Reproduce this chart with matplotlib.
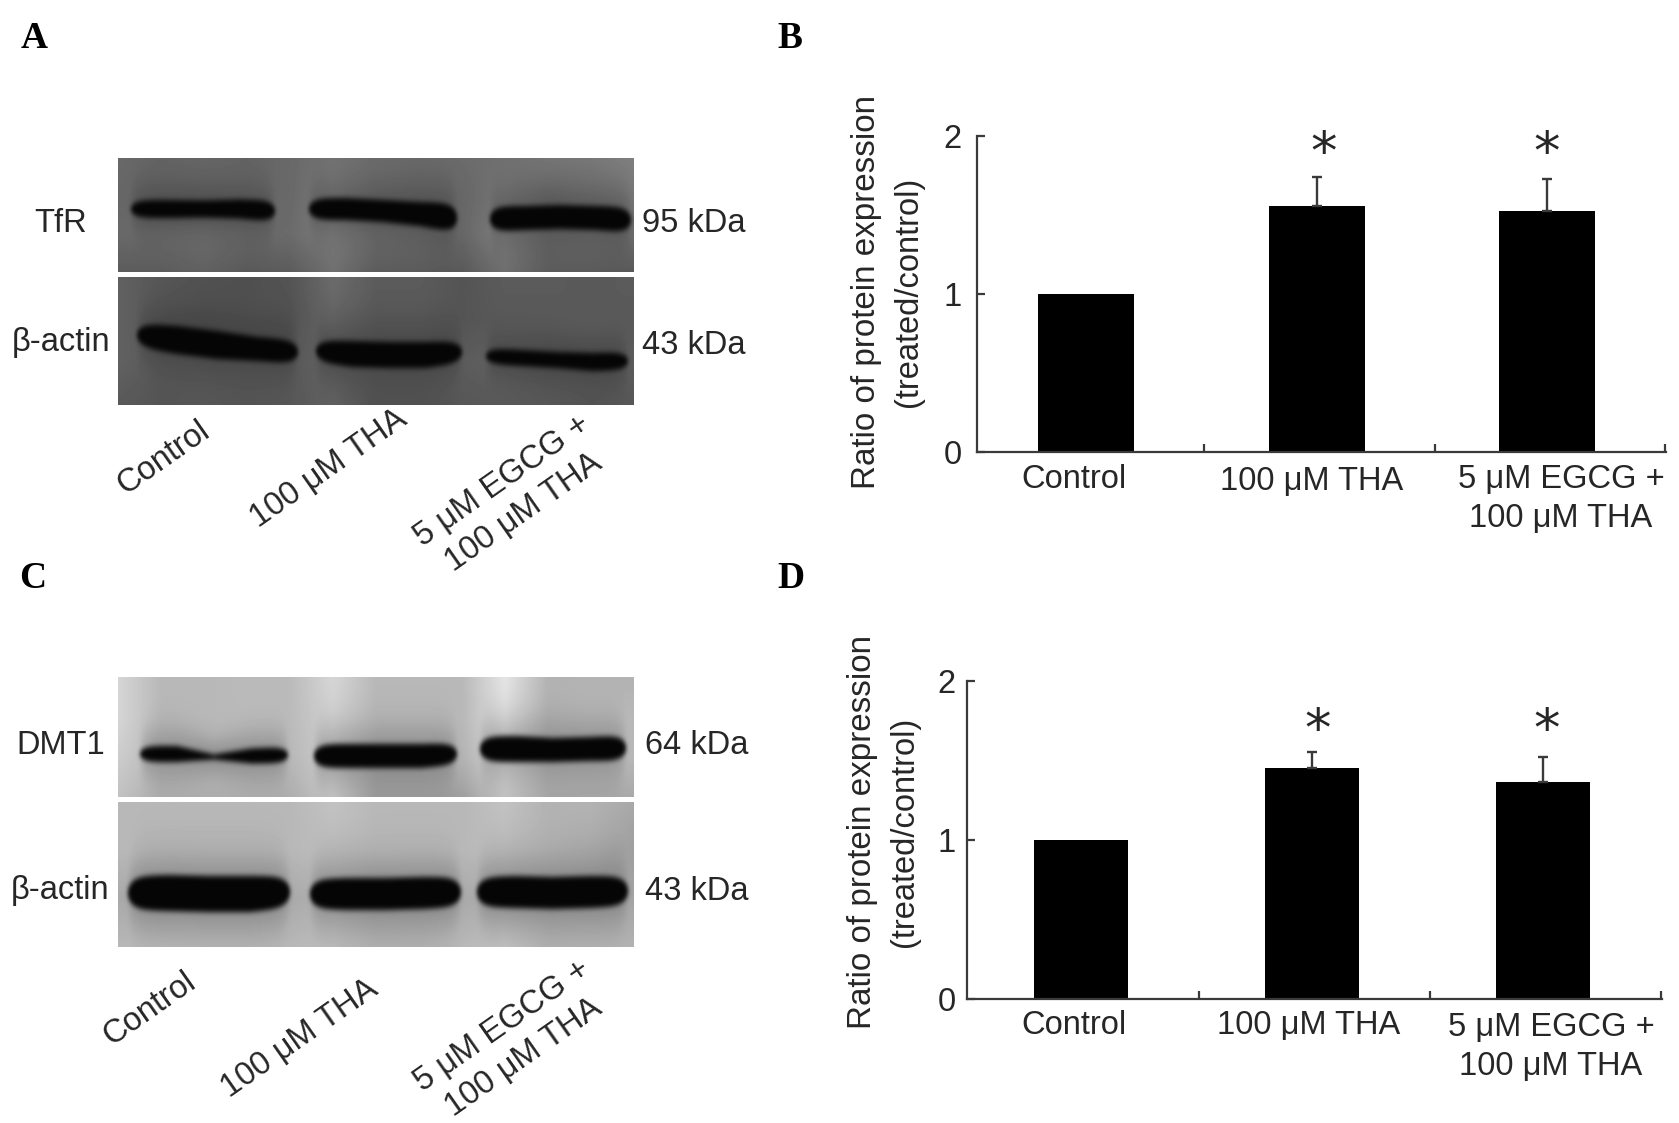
import numpy as np
import matplotlib
matplotlib.use("Agg")
import matplotlib.pyplot as plt

plt.rcParams['font.family'] = ['Liberation Sans', 'DejaVu Sans']

# ---------- data ----------
categories = ["Control", "100 μM THA", "5 μM EGCG +\n100 μM THA"]
y_ticks = [0, 1, 2]
ylabel_1 = "Ratio of protein expression"
ylabel_2 = "(treated/control)"

b_values = [1.0, 1.56, 1.525]
b_errors = [0.0, 0.18, 0.205]
d_values = [1.0, 1.45, 1.365]
d_errors = [0.0, 0.105, 0.155]

# blot bands: x-left, x-right, centre line, half thickness (5 control points)
tfr_bands = [
    (131, 275, [209, 209, 209, 209, 211], [9, 9, 8.5, 9.5, 11]),
    (309, 457, [209, 209, 211, 214, 218], [11, 11, 11, 12, 15]),
    (490, 631, [219, 218, 217, 218, 220], [13, 12, 12, 12, 13]),
]
actin_a_bands = [
    (137, 298, [335, 340, 345, 349, 352], [12, 14, 14, 12, 12]),
    (316, 462, [351, 354, 355, 355, 352], [11, 13, 13, 13, 11]),
    (486, 628, [356, 358, 360, 362, 361], [8, 8, 8, 9, 9]),
]
dmt1_bands = [
    (140, 288, [754, 754, 757, 756, 755], [8.5, 8, 2.5, 7.5, 8.5]),
    (314, 457, [756, 756, 756, 756, 754], [12, 12, 12, 12, 11]),
    (480, 626, [749, 749, 750, 749, 748], [13, 13, 12, 12, 13]),
]
actin_c_bands = [
    (128, 290, [893, 893, 894, 894, 892], [17, 18, 18, 18, 16]),
    (310, 461, [894, 894, 894, 893, 892], [15, 16, 16, 16, 15]),
    (477, 628, [892, 892, 893, 892, 891], [15, 16, 16, 16, 15]),
]

# blot background grey levels (rows top to bottom, columns left to right)
bg_tfr = [[.41, .39, .40, .39, .41, .45, .42, .41, .42, .44, .46, .47, .50],
          [.40, .39, .39, .40, .41, .48, .42, .40, .40, .46, .42, .44, .46],
          [.41, .42, .43, .41, .42, .49, .43, .42, .40, .50, .42, .43, .42],
          [.36, .36, .38, .35, .36, .44, .36, .36, .35, .44, .36, .36, .35]]
bg_actin_a = [[.38, .34, .32, .31, .33, .42, .36, .36, .33, .36, .36, .35, .36],
              [.38, .34, .32, .32, .32, .40, .35, .35, .33, .35, .35, .36, .35],
              [.38, .35, .35, .35, .35, .38, .36, .36, .36, .38, .36, .36, .36],
              [.35, .33, .34, .33, .34, .38, .32, .32, .34, .35, .34, .33, .34]]
bg_dmt1 = [[.84, .72, .72, .73, .73, .84, .72, .72, .72, .90, .70, .70, .70],
           [.84, .72, .72, .73, .73, .82, .72, .72, .72, .88, .70, .72, .72],
           [.80, .72, .72, .72, .72, .80, .70, .70, .70, .84, .72, .72, .72],
           [.76, .68, .68, .68, .68, .78, .62, .62, .62, .78, .66, .66, .66]]
bg_actin_c = [[.72, .72, .72, .72, .72, .76, .72, .72, .72, .76, .70, .70, .66],
              [.72, .72, .72, .72, .72, .74, .72, .72, .72, .74, .70, .68, .62],
              [.66, .66, .66, .66, .66, .70, .66, .66, .66, .68, .66, .66, .64],
              [.72, .72, .72, .72, .72, .74, .70, .70, .72, .76, .70, .70, .70]]

W, H = 1679, 1123
fig = plt.figure(figsize=(W / 100, H / 100), dpi=100, facecolor='white')
FS = 23.5
LINE = '#3a3a3a'
LSP = 1.32


def blur(a, s):
    r = int(3 * s)
    k = np.exp(-0.5 * (np.arange(-r, r + 1) / s) ** 2)
    k /= k.sum()
    p = np.pad(a, r, mode='edge')
    p = np.apply_along_axis(lambda v: np.convolve(v, k, mode='same'), 0, p)
    p = np.apply_along_axis(lambda v: np.convolve(v, k, mode='same'), 1, p)
    return p[r:-r, r:-r]


def blot(x0, x1, y0, y1, bg, bands, dark=0.02):
    xs = np.arange(x0, x1) + 0.5
    ys = np.arange(y0, y1) + 0.5
    bg = np.array(bg)
    gx = np.linspace(x0, x1, bg.shape[1])
    gy = np.linspace(y0, y1, bg.shape[0])
    rows = np.array([np.interp(xs, gx, r) for r in bg])
    img = np.array([np.interp(ys, gy, c) for c in rows.T]).T
    cover = np.zeros_like(img)
    halo = np.zeros_like(img)
    tc = np.linspace(0, 1, 5)
    for bx0, bx1, cs, hs in bands:
        for i, x in enumerate(xs):
            t = (x - bx0) / (bx1 - bx0)
            if t < 0 or t > 1:
                continue
            env = np.sqrt(max(1 - abs(2 * t - 1) ** 10, 0))
            yc = np.interp(t, tc, cs)
            h = np.interp(t, tc, hs) * env
            cover[:, i] = np.maximum(cover[:, i],
                                     np.clip((h + 3 - np.abs(ys - yc)) / 6, 0, 1))
            halo[:, i] = np.maximum(halo[:, i],
                                    env * np.exp(-0.5 * ((ys - yc) / (h + 11)) ** 2))
    img = img * (1 - 0.2 * halo)
    img = blur(img, 2.0)
    cover = blur(cover, 2.0)
    return img * (1 - cover) + dark * cover


ov = fig.add_axes([0, 0, 1, 1], zorder=5)
ov.set_xlim(0, W)
ov.set_ylim(H, 0)
ov.axis('off')
ov.patch.set_alpha(0)

for (y0, y1, bg, bands) in [(158, 272, bg_tfr, tfr_bands),
                            (277, 405, bg_actin_a, actin_a_bands),
                            (677, 797, bg_dmt1, dmt1_bands),
                            (802, 947, bg_actin_c, actin_c_bands)]:
    ov.imshow(blot(118, 634, y0, y1, bg, bands), cmap='gray', vmin=0, vmax=1,
              extent=(118, 634, y1, y0), aspect='auto', interpolation='bilinear')
ov.set_xlim(0, W)
ov.set_ylim(H, 0)


def T(x, y, s, **kw):
    kw.setdefault('fontsize', FS)
    kw.setdefault('color', '#262626')
    ov.text(x, y, s, ha='center', va='center', **kw)


# panel letters
for s, x, y in [('A', 34, 38), ('B', 790, 38), ('C', 33, 578), ('D', 791, 578)]:
    T(x, y, s, fontsize=27, fontweight='bold', family='Liberation Serif', color='black')

# blot labels
T(61, 223, 'TfR')
T(61, 343, 'β-actin')
T(694, 223, '95 kDa')
T(694, 345, '43 kDa')
T(61, 745, 'DMT1')
T(60, 890, 'β-actin')
T(697, 746, '64 kDa')
T(697, 892, '43 kDa')

ROT = 35
T(164, 458, categories[0], rotation=ROT, rotation_mode='anchor')
T(329, 469, categories[1], rotation=ROT, rotation_mode='anchor')
T(513, 497, categories[2], rotation=ROT, rotation_mode='anchor', linespacing=LSP)
T(150, 1009, categories[0], rotation=ROT, rotation_mode='anchor')
T(300, 1039, categories[1], rotation=ROT, rotation_mode='anchor')
T(513, 1042, categories[2], rotation=ROT, rotation_mode='anchor', linespacing=LSP)


def bars(left, right, y2, y0, c0, spacing, width, vals, errs, pad):
    ax = fig.add_axes([left / W, 1 - y0 / H, (right - left) / W, (y0 - y2) / H])
    xpos = np.arange(len(vals))
    ax.bar(xpos, vals, width=width / spacing, color='black', linewidth=0)
    for xp, v, e in zip(xpos, vals, errs):
        if e > 0:
            ax.errorbar(xp, v, yerr=[[0], [e]], color=LINE, lw=1.7,
                        capsize=3.5, capthick=1.7, fmt='none')
    ax.set_xlim((left - c0) / spacing, (right - c0) / spacing)
    ax.set_ylim(0, 2)
    ax.set_yticks(y_ticks)
    ax.set_xticks([0.512, 1.512, 2.51])
    ax.set_xticklabels([])
    ax.tick_params(axis='both', direction='in', length=6, width=1.6, color=LINE)
    ax.tick_params(axis='y', labelsize=FS, pad=pad, labelcolor='#262626')
    for s in ('top', 'right'):
        ax.spines[s].set_visible(False)
    for s in ('left', 'bottom'):
        ax.spines[s].set_color(LINE)
        ax.spines[s].set_linewidth(1.6)
    ax.patch.set_alpha(0)
    return ax


bars(977, 1666, 136, 452, 1086, 230.5, 96, b_values, b_errors, 11)
bars(967, 1662, 681, 999, 1081, 231, 94, d_values, d_errors, 8)

# panel B text
T(866, 292, ylabel_1, rotation=90, fontsize=23.9)
T(908, 292, ylabel_2, rotation=90)
T(1074, 479, categories[0])
T(1312, 482, categories[1])
T(1561, 499, categories[2], linespacing=LSP)
for x in (1324, 1547):
    T(x, 154, '*', fontsize=38, family='DejaVu Sans')

# panel D text
T(863, 832, ylabel_1, rotation=90, fontsize=23.9)
T(905, 832, ylabel_2, rotation=90)
T(1074, 1025, categories[0])
T(1309, 1025, categories[1])
T(1551, 1047, categories[2], linespacing=LSP)
for x in (1318, 1547):
    T(x, 731, '*', fontsize=38, family='DejaVu Sans')

fig.savefig('out.png', dpi=100, facecolor='white')
